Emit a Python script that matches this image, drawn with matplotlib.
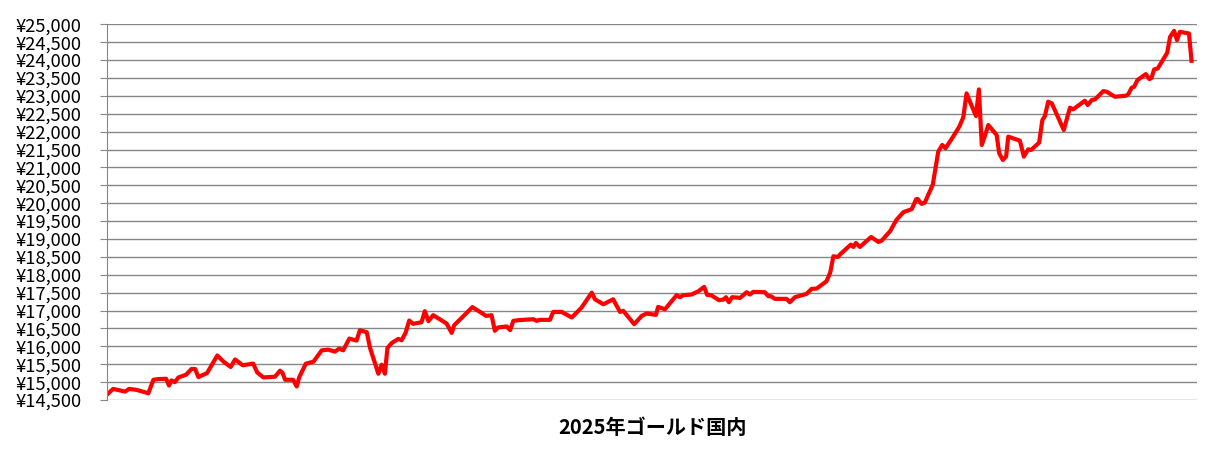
import matplotlib.pyplot as plt
from matplotlib.ticker import FuncFormatter

plt.rcParams['font.family'] = ['Noto Sans CJK JP', 'DejaVu Sans']

# data: position in the year (days) and domestic gold price, yen/g
days = [0.1, 1.7, 5.0, 6.1, 8.2, 11.4, 12.8, 14.1, 16.3, 17.1,
        17.8, 18.7, 19.7, 21.8, 23.3, 24.3, 25.2, 27.6, 30.4, 32.2,
        34.1, 35.3, 36.2, 37.4, 40.3, 41.4, 43.1, 46.3, 47.7, 48.4,
        49.1, 51.3, 52.3, 53.0, 54.8, 56.9, 59.2, 61.0, 62.8, 64.0,
        65.1, 66.8, 68.8, 69.7, 71.6, 72.5, 74.8, 75.7, 76.6, 77.3,
        78.5, 80.3, 81.2, 82.3, 83.3, 84.4, 86.7, 87.6, 88.6, 89.9,
        93.6, 95.0, 95.7, 98.7, 100.7, 104.5, 106.0, 106.9, 107.8, 110.2,
        111.1, 112.0, 113.4, 117.5, 118.4, 119.3, 122.1, 123.0, 125.3, 128.1,
        130.8, 133.6, 134.5, 136.8, 139.5, 141.4, 142.3, 145.3, 147.4, 148.7,
        151.3, 151.9, 153.8, 157.0, 157.9, 158.8, 161.1, 163.0, 164.6, 165.4,
        166.5, 168.7, 169.9, 170.6, 171.4, 172.3, 174.5, 176.3, 177.2, 178.1,
        181.3, 182.3, 183.0, 184.1, 187.3, 188.2, 189.6, 192.8, 194.2, 195.6,
        198.3, 199.3, 200.2, 201.5, 202.0, 205.0, 205.7, 206.4, 207.5, 210.6,
        212.6, 213.5, 215.8, 217.6, 219.5, 221.8, 223.0, 223.4, 224.5, 225.4,
        227.6, 229.1, 230.2, 231.1, 233.2, 234.9, 236.0, 236.9, 239.5, 240.3,
        241.1, 241.8, 242.9, 245.2, 245.9, 246.9, 247.8, 248.4, 251.6, 252.7,
        253.9, 254.7, 256.9, 257.8, 258.5, 259.4, 260.4, 263.7, 265.4, 266.3,
        269.5, 270.3, 271.4, 272.3, 274.6, 275.5, 277.8, 280.8, 281.5, 282.4,
        283.1, 284.0, 286.3, 287.3, 287.9, 288.6, 289.6, 292.2, 293.0, 294.1,
        294.9, 295.7, 298.2, 298.9]
price = [14660, 14811, 14736, 14811, 14783, 14689, 15066, 15085, 15094, 14905,
         15047, 15000, 15132, 15207, 15368, 15368, 15141, 15254, 15745, 15566,
         15424, 15632, 15566, 15471, 15518, 15273, 15132, 15151, 15320, 15254,
         15066, 15066, 14878, 15140, 15515, 15571, 15889, 15908, 15852, 15936,
         15889, 16217, 16161, 16451, 16395, 15955, 15234, 15487, 15234, 15955,
         16095, 16207, 16170, 16376, 16722, 16629, 16675, 16984, 16704, 16872,
         16638, 16376, 16591, 16891, 17097, 16852, 16870, 16435, 16528, 16556,
         16454, 16713, 16731, 16759, 16713, 16741, 16741, 16963, 16963, 16806,
         17083, 17500, 17315, 17176, 17315, 16963, 16991, 16620, 16852, 16917,
         16880, 17102, 17037, 17430, 17373, 17429, 17448, 17540, 17661, 17438,
         17429, 17290, 17308, 17373, 17234, 17373, 17355, 17513, 17448, 17522,
         17513, 17401, 17401, 17327, 17327, 17234, 17373, 17466, 17606, 17615,
         17819, 18051, 18516, 18500, 18565, 18843, 18778, 18889, 18778, 19056,
         18917, 18954, 19213, 19537, 19750, 19834, 20111, 20121, 19982, 20019,
         20520, 21441, 21628, 21535, 21860, 22139, 22400, 23069, 22437, 23181,
         21628, 21832, 22186, 21907, 21395, 21209, 21302, 21860, 21748, 21302,
         21507, 21488, 21693, 22325, 22437, 22837, 22790, 22046, 22669, 22623,
         22864, 22744, 22883, 22902, 23134, 23116, 22976, 23004, 23050, 23227,
         23255, 23441, 23608, 23469, 23506, 23739, 23767, 24204, 24650, 24817,
         24557, 24790, 24743, 23980]

title = "2025年ゴールド国内"

fig = plt.figure(figsize=(12.21, 4.72), dpi=100)
ax = fig.add_axes([0.0876, 0.1525, 0.8927, 0.796])

ax.plot(days, price, color='#ff0000', linewidth=3, solid_joinstyle='round')

ax.set_ylim(14500, 25000)
ax.set_yticks(range(14500, 25001, 500))
ax.yaxis.set_major_formatter(FuncFormatter(lambda v, p: "¥{:,.0f}".format(v)))
ax.set_xlim(0, 300.4)
ax.set_xticks([])

ax.grid(axis='y', color='#868686', linewidth=1)
ax.set_axisbelow(True)
for s in ['top', 'right', 'bottom']:
    ax.spines[s].set_visible(False)
ax.spines['left'].set_color('#868686')
ax.tick_params(axis='y', length=5, color='#868686', pad=13.5, labelsize=13.2)

fig.text(0.534, 0.095, title, ha='center', va='center',
         fontsize=14.5, fontweight='bold')

fig.savefig('out.png', dpi=100)
